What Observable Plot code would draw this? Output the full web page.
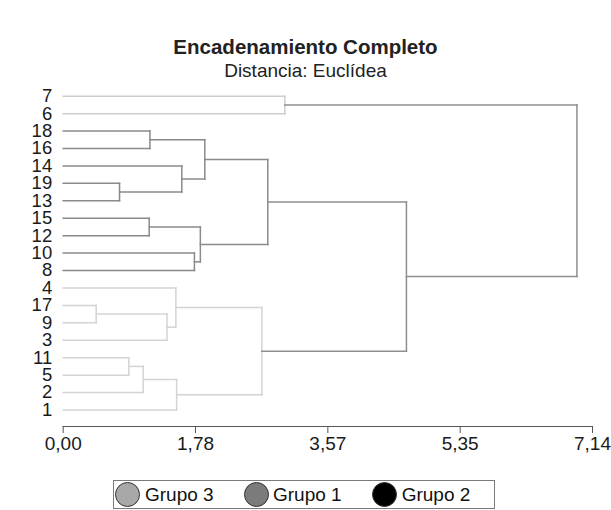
<!DOCTYPE html>
<html>
<head>
<meta charset="utf-8">
<script src="https://cdn.jsdelivr.net/npm/d3@7"></script>
<script src="https://cdn.jsdelivr.net/npm/@observablehq/plot@0.6"></script>
<style>
  html, body { margin: 0; padding: 0; background: #fff; }
  body { font-family: "Liberation Sans", Arial, sans-serif; color: #222; }
  #wrap { position: relative; width: 611px; height: 510px; overflow: hidden; }
  #chart { position: absolute; left: 0; top: 0; }
  .ttl { position: absolute; left: 0; width: 611px; text-align: center; white-space: nowrap; }
  #title { top: 36px; font-size: 20.5px; line-height: 21px; font-weight: bold; color: #222; }
  #subtitle { top: 61px; font-size: 19px; line-height: 20px; color: #222; }
  #legend { position: absolute; left: 113px; top: 480px; width: 382px; height: 29px; box-sizing: border-box; border: 1px solid #7a7a7a; background: #fff; }
  .sw { position: absolute; top: 1px; width: 25px; height: 25px; border-radius: 50%; box-sizing: border-box; border: 1px solid #333; }
  .lt { position: absolute; top: 0; height: 27px; line-height: 27px; font-size: 19px; color: #111; white-space: nowrap; }
</style>
</head>
<body>
<div id="wrap">
  <div id="chart"></div>
  <div id="title" class="ttl">Encadenamiento Completo</div>
  <div id="subtitle" class="ttl">Distancia: Euclídea</div>
  <div id="legend"></div>
</div>
<script>
// Leaves, top to bottom
const leaves = ["7","6","18","16","14","19","13","15","12","10","8","4","17","9","3","11","5","2","1"];

// Merges (complete linkage): left child, right child, height, line colour class
const mergeLeft   = ["7","18","19","14","m1","15","10","m5","m4","17","m9","4","11","m12","m13","m11","m8","m0"];
const mergeRight  = ["6","16","13","m2","m3","12","8","m6","m7","9","3","m10","5","2","1","m14","m15","m16"];
const mergeHeight = [2.99,1.17,0.76,1.60,1.91,1.16,1.77,1.85,2.76,0.445,1.40,1.52,0.885,1.08,1.53,2.68,4.63,6.93];
const mergeGroup  = ["g3","g1","g1","g1","g1","g1","g1","g1","g1","g2","g2","g2","g2","g2","g2","g2","top","top"];

// Axis ticks
const tickValues = [0, 1.785, 3.57, 5.355, 7.14];
const tickLabels = ["0,00","1,78","3,57","5,35","7,14"];

// Legend
const legendNames  = ["Grupo 3","Grupo 1","Grupo 2"];
const legendColors = ["#a8a8a8","#7b7b7b","#000000"];

const lineColor = {g3: "#cdcdcd", g1: "#8a8a8a", g2: "#d4d4d4", top: "#8e8e8e"};

// Build node positions
const nodes = {};
leaves.forEach((l, i) => nodes[l] = {y: i, h: 0});
const segs = [];
mergeLeft.forEach((a, i) => {
  const b = mergeRight[i], h = mergeHeight[i], c = lineColor[mergeGroup[i]];
  const A = nodes[a], B = nodes[b];
  segs.push({x1: A.h, y1: A.y, x2: h, y2: A.y, c});
  segs.push({x1: B.h, y1: B.y, x2: h, y2: B.y, c});
  segs.push({x1: h, y1: A.y, x2: h, y2: B.y, c});
  nodes["m" + i] = {y: (A.y + B.y) / 2, h};
});

const chart = Plot.plot({
  width: 611,
  height: 470,
  marginLeft: 62.7,
  marginRight: 19,
  marginTop: 0,
  marginBottom: 44,
  style: {background: "transparent", fontFamily: "Liberation Sans, Arial, sans-serif", color: "#222"},
  x: {domain: [0, 7.14], range: [62.7, 592]},
  y: {domain: [0, leaves.length - 1], range: [95.7, 409.5]},
  color: {type: "identity"},
  marks: [
    Plot.link(segs, {x1: "x1", y1: "y1", x2: "x2", y2: "y2", stroke: "c", strokeWidth: 1.5, strokeLinecap: "square"}),
    Plot.frame({anchor: "bottom", stroke: "#555", strokeWidth: 1.2}),
    Plot.axisX({ticks: tickValues, tickFormat: (d, i) => tickLabels[i], tickSize: 7, tickPadding: 3, fontSize: 19, stroke: "#555", fill: "#1a1a1a", label: null}),
    Plot.axisY({ticks: d3.range(leaves.length), tickFormat: i => leaves[i], tickSize: 0, tickPadding: 11, fontSize: 18.5, fill: "#1a1a1a", label: null})
  ]
});
document.getElementById("chart").appendChild(chart);

// Legend
const lg = document.getElementById("legend");
const circleCx = [127.7, 256, 384.3];
const textX = [145, 273, 401.7];
legendNames.forEach((n, i) => {
  const s = document.createElement("div");
  s.className = "sw";
  s.style.left = (circleCx[i] - 12.5 - 114) + "px";
  s.style.background = legendColors[i];
  lg.appendChild(s);
  const t = document.createElement("div");
  t.className = "lt";
  t.style.left = (textX[i] - 114) + "px";
  t.textContent = n;
  lg.appendChild(t);
});
</script>
</body>
</html>
